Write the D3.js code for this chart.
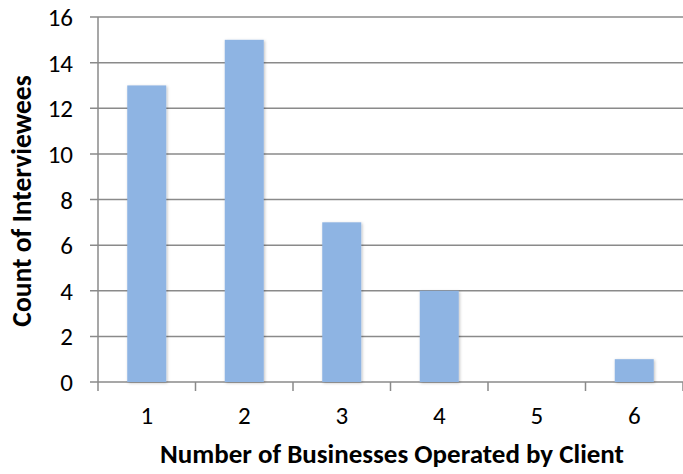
<!DOCTYPE html>
<html>
<head>
<meta charset="utf-8">
<script src="https://cdn.jsdelivr.net/npm/d3@7"></script>
<style>
body { margin: 0; background: #fff; }
text { font-family: Carlito, Lato, sans-serif; }
</style>
</head>
<body>
<div id="chart"></div>
<script>
width = 683
height = 474

let categories = ["1", "2", "3", "4", "5", "6"]
let counts = [13, 15, 7, 4, 0, 1]
let yTicks = [0, 2, 4, 6, 8, 10, 12, 14, 16]

let margin = {top: 17, right: 0, bottom: 92, left: 98}

let svg = d3.select("#chart")
.append("svg")
.attr("width", width)
.attr("height", height)

let x = d3.scaleBand()
.domain(categories)
.range([margin.left, width - margin.right])
.paddingInner(0.6)
.paddingOuter(0.3)

let xTicks = d3.scaleLinear()
.domain([0, categories.length])
.range([margin.left, width - margin.right])

let y = d3.scaleLinear()
.domain([0, 16])
.range([height - margin.bottom, margin.top])

let defs = svg.append("defs")
let f = defs.append("filter").attr("id", "shadow")
.attr("x", "-20%").attr("y", "-20%").attr("width", "140%").attr("height", "140%")
f.append("feDropShadow").attr("dx", 1).attr("dy", 1).attr("stdDeviation", 1.5)
.attr("flood-color", "#000").attr("flood-opacity", 0.25)

// gridlines
svg.append("g")
.selectAll("line")
.data(yTicks)
.join("line")
.attr("x1", margin.left - 8)
.attr("x2", width)
.attr("y1", d => y(d))
.attr("y2", d => y(d))
.attr("stroke", "#8a8a8a")
.attr("stroke-width", 1.5)

// y axis line
svg.append("line")
.attr("x1", margin.left).attr("x2", margin.left)
.attr("y1", y(16)).attr("y2", y(0))
.attr("stroke", "#8a8a8a").attr("stroke-width", 1.5)

// x ticks
svg.append("g")
.selectAll("line")
.data(d3.range(categories.length + 1))
.join("line")
.attr("x1", d => xTicks(d))
.attr("x2", d => xTicks(d))
.attr("y1", y(0))
.attr("y2", y(0) + 9)
.attr("stroke", "#8a8a8a")
.attr("stroke-width", 1.5)

// bars
svg.append("g")
.selectAll("rect")
.data(counts)
.join("rect")
.attr("x", (d, i) => x(categories[i]))
.attr("width", x.bandwidth())
.attr("y", d => y(d))
.attr("height", d => y(0) - y(d))
.attr("fill", "#8eb4e3")
.attr("filter", "url(#shadow)")

// y labels
svg.append("g")
.selectAll("text")
.data(yTicks)
.join("text")
.attr("x", 73)
.attr("y", d => y(d))
.attr("dy", "0.36em")
.attr("text-anchor", "end")
.attr("font-size", 25)
.attr("fill", "#000")
.text(d => d)

// x labels
svg.append("g")
.selectAll("text")
.data(categories)
.join("text")
.attr("x", d => x(d) + x.bandwidth() / 2)
.attr("y", 424)
.attr("text-anchor", "middle")
.attr("font-size", 25)
.attr("fill", "#000")
.text(d => d)

svg.append("text")
.attr("x", 392)
.attr("y", 463)
.attr("text-anchor", "middle")
.attr("font-size", 27)
.attr("font-weight", "bold")
.text("Number of Businesses Operated by Client")

svg.append("text")
.attr("transform", "translate(31," + 201 + ") rotate(-90)")
.attr("text-anchor", "middle")
.attr("font-size", 27.5)
.attr("font-weight", "bold")
.text("Count of Interviewees")
</script>
</body>
</html>
